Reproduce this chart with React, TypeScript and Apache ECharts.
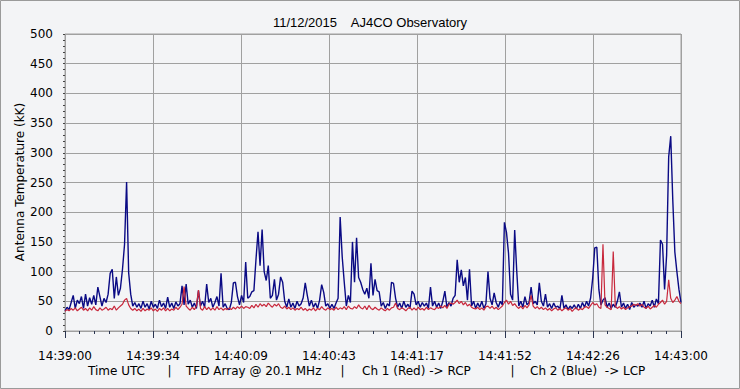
import React, { useEffect, useRef } from 'react';
import * as echarts from 'echarts';

const chartTitle = '11/12/2015    AJ4CO Observatory';
const yAxisTitle = 'Antenna Temperature (kK)';
const footerParts = ['Time UTC', '|', 'TFD Array @ 20.1 MHz', '|', 'Ch 1 (Red) -> RCP', '|', 'Ch 2 (Blue)  -> LCP'];
const tickLabels = ['14:39:00', '14:39:34', '14:40:09', '14:40:43', '14:41:17', '14:41:52', '14:42:26', '14:43:00'];
const durationSec = 240;
const sampleStep = 0.8;

// Ch 2 (Blue) -> LCP, kK, one sample every 0.8 s
const ch2Blue = [
  34, 40, 36, 48, 60, 38, 52, 46, 58, 38,
  62, 42, 56, 45, 60, 44, 74, 58, 42, 55,
  48, 62, 97, 104, 55, 91, 60, 72, 104, 146,
  251, 98, 62, 42, 48, 40, 46, 38, 50, 40,
  46, 37, 50, 40, 45, 38, 52, 41, 47, 38,
  57, 40, 47, 38, 49, 42, 46, 76, 44, 79,
  45, 52, 40, 47, 38, 68, 42, 50, 40, 79,
  48, 55, 40, 48, 58, 42, 97, 40, 46, 38,
  36, 48, 81, 82, 58, 44, 60, 48, 116, 55,
  58, 66, 68, 120, 167, 110, 171, 100, 85, 110,
  55, 60, 87, 52, 62, 91, 82, 50, 40, 54,
  40, 47, 38, 50, 42, 46, 56, 81, 60, 42,
  52, 40, 47, 38, 52, 78, 65, 42, 46, 38,
  45, 38, 47, 55, 192, 125, 82, 42, 60, 48,
  150, 82, 157, 90, 82, 70, 62, 72, 55, 114,
  60, 87, 68, 66, 42, 48, 38, 46, 42, 82,
  80, 55, 40, 47, 38, 50, 40, 45, 38, 67,
  62, 44, 50, 40, 48, 42, 47, 38, 74, 42,
  50, 40, 47, 38, 50, 67, 40, 48, 42, 55,
  60, 120, 82, 103, 76, 90, 52, 104, 42, 50,
  38, 47, 40, 50, 38, 46, 100, 55, 44, 64,
  48, 40, 50, 44, 183, 166, 131, 62, 52, 170,
  101, 42, 50, 40, 58, 44, 48, 74, 46, 50,
  44, 81, 50, 42, 62, 40, 46, 38, 47, 40,
  42, 37, 60, 38, 44, 36, 42, 38, 44, 37,
  45, 38, 48, 40, 50, 42, 56, 89, 140, 141,
  70, 44, 52, 56, 40, 47, 38, 45, 40, 50,
  66, 40, 47, 38, 45, 36, 48, 40, 44, 42,
  47, 40, 50, 38, 46, 42, 52, 40, 54, 46,
  153, 146, 70, 128, 293, 328, 220, 133, 100, 70, 48,
];

// Ch 1 (Red) -> RCP, kK, one sample every 0.8 s
const ch1Red = [
  33, 36, 34, 38, 35, 39, 34, 37, 40, 35,
  38, 34, 39, 35, 41, 36, 34, 39, 35, 37,
  40, 35, 38, 36, 42, 35, 39, 42, 45, 52,
  55, 44, 38, 35, 38, 34, 37, 33, 38, 34,
  37, 35, 39, 34, 37, 33, 38, 35, 39, 34,
  38, 34, 37, 35, 40, 36, 40, 45, 75, 42,
  38, 35, 40, 36, 42, 69, 38, 35, 41, 36,
  40, 35, 39, 35, 41, 36, 39, 35, 38, 36,
  39, 36, 40, 37, 41, 38, 42, 38, 41, 40,
  38, 43, 39, 45, 40, 46, 42, 45, 41, 47,
  43, 40, 45, 42, 46, 40, 38, 42, 37, 40,
  36, 39, 35, 38, 36, 40, 35, 38, 34, 37,
  35, 39, 34, 38, 36, 41, 37, 35, 39, 36,
  38, 35, 40, 36, 39, 37, 41, 36, 42, 38,
  37, 41, 38, 44, 39, 37, 42, 36, 43, 38,
  36, 40, 37, 35, 39, 36, 34, 38, 35, 39,
  40, 47, 38, 36, 39, 37, 34, 38, 40, 35,
  39, 35, 40, 36, 38, 35, 40, 36, 39, 37,
  36, 40, 38, 42, 39, 43, 38, 45, 47, 45,
  48, 52, 46, 50, 44, 48, 42, 45, 40, 38,
  37, 40, 36, 39, 35, 41, 42, 38, 42, 37,
  40, 36, 39, 42, 48, 52, 45, 50, 43, 46,
  41, 38, 42, 37, 43, 39, 44, 60, 42, 38,
  41, 37, 40, 36, 39, 35, 38, 34, 37, 39,
  35, 38, 34, 37, 39, 35, 38, 33, 37, 39,
  35, 38, 36, 40, 41, 38, 43, 48, 44, 46,
  40, 38, 146, 44, 40, 38, 36, 134, 42, 38,
  41, 37, 40, 36, 39, 41, 42, 45, 43, 46,
  42, 45, 40, 38, 42, 37, 40, 43, 40, 45,
  48, 52, 45, 50, 86, 55, 48, 52, 58, 50, 46,
];

const FONT = "'DejaVu Sans', sans-serif";

export default function App() {
  const ref = useRef<HTMLDivElement>(null);
  useEffect(() => {
    const chart = echarts.init(ref.current!, null, { renderer: 'svg' });
    const interval = durationSec / (tickLabels.length - 1);
    const blueData = ch2Blue.map((v, i) => [i * sampleStep, v]);
    const redData = ch1Red.map((v, i) => [i * sampleStep, v]);
    const footerX = [88, 169.5, 186, 342.5, 362, 512.5, 530];
    chart.setOption({
      animation: false,
      backgroundColor: '#f3f4f6',
      title: {
        text: chartTitle,
        left: 'center',
        top: 11,
        textStyle: { fontFamily: "'Liberation Sans', sans-serif", fontSize: 13, fontWeight: 'normal', color: '#000' },
      },
      grid: {
        left: 65, right: 59, top: 34, bottom: 58,
        show: true, borderColor: '#a0a0a0', borderWidth: 1, backgroundColor: 'transparent',
      },
      xAxis: {
        type: 'value',
        min: 0,
        max: durationSec,
        interval,
        offset: 6,
        axisLine: { show: false },
        axisTick: { show: true, length: 7, lineStyle: { color: '#2a3550' } },
        minorTick: { show: true, splitNumber: 6, length: 3, lineStyle: { color: '#2a3550' } },
        axisLabel: {
          margin: 13,
          fontFamily: FONT,
          fontSize: 12,
          color: '#000',
          formatter: (v: number) => tickLabels[Math.round(v / interval)] ?? '',
        },
        splitLine: { show: true, lineStyle: { color: '#a0a0a0', width: 1 } },
      },
      yAxis: {
        type: 'value',
        min: 0,
        max: 500,
        interval: 50,
        offset: 6,
        axisLine: { show: false },
        axisTick: { show: true, length: 2, lineStyle: { color: '#444' } },
        minorTick: { show: true, splitNumber: 5, length: 2, lineStyle: { color: '#444' } },
        axisLabel: { margin: 6, fontFamily: FONT, fontSize: 12, color: '#000' },
        splitLine: { show: true, lineStyle: { color: '#a0a0a0', width: 1 } },
      },
      series: [
        {
          name: 'Ch 2 (Blue)',
          type: 'line',
          data: blueData,
          symbol: 'none',
          lineStyle: { width: 1.4, color: '#0a0a84' },
          itemStyle: { color: '#0a0a84' },
        },
        {
          name: 'Ch 1 (Red)',
          type: 'line',
          data: redData,
          symbol: 'none',
          lineStyle: { width: 1.2, color: '#c8283c' },
          itemStyle: { color: '#c8283c' },
        },
      ],
      graphic: [
        {
          type: 'rect',
          shape: { x: 0.5, y: 0.5, width: 739, height: 388 },
          style: { fill: 'none', stroke: '#9a9a9a', lineWidth: 1 },
          silent: true,
        },
        {
          type: 'text',
          x: 20,
          y: 182,
          rotation: Math.PI / 2,
          style: { text: yAxisTitle, fontFamily: FONT, fontSize: 12, fill: '#000', textAlign: 'center', textVerticalAlign: 'middle' },
        },
        ...footerParts.map((t, i) => ({
          type: 'text',
          x: footerX[i],
          y: 371,
          style: {
            text: t,
            fontFamily: FONT,
            fontSize: 12,
            fill: '#000',
            textAlign: t === '|' ? 'center' : 'left',
            textVerticalAlign: 'middle',
          },
        })),
      ],
    });
    return () => chart.dispose();
  }, []);
  return <div ref={ref} style={{ position: 'absolute', left: 0, top: 0, width: 740, height: 389 }} />;
}
